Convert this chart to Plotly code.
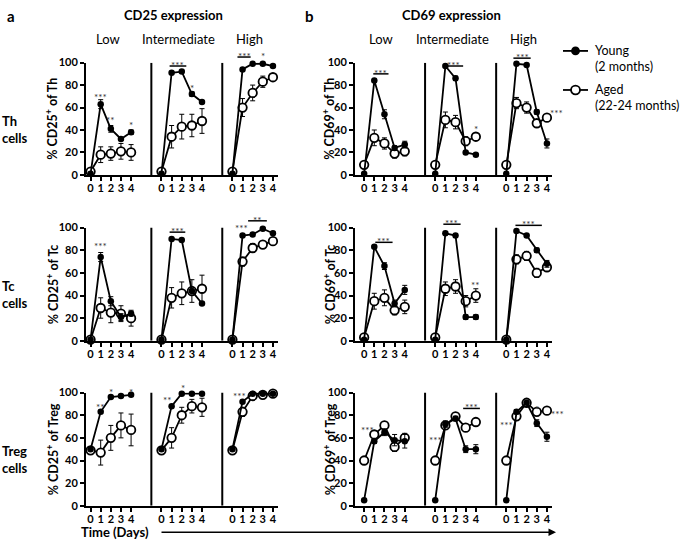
import plotly.graph_objects as go

# ---------------- data ----------------
days = [0, 1, 2, 3, 4]
subset_names = ["Low", "Intermediate", "High"]
tick_labels = ["0", "1", "2", "3", "4"]
y_ticks = [0, 20, 40, 60, 80, 100]
row_labels = ["Th", "Tc", "Treg"]
markers = ["CD25", "CD69"]
legend_young = ["Young", "(2 months)"]
legend_aged = ["Aged", "(22-24 months)"]

# each list: [Low, Intermediate, High], values for days 0..4
cd25_th_young = [[1, 63, 41, 32, 38], [1, 91, 92, 72, 65], [1, 94, 99, 99, 97]]
cd25_th_young_err = [[0, 4, 3, 1, 2], [0, 1, 1, 2, 1], [0, 1, 1, 1, 1]]
cd25_th_aged = [[3, 18, 19, 21, 20], [3, 34, 43, 44, 48], [3, 60, 73, 83, 87]]
cd25_th_aged_err = [[1, 7, 6, 7, 7], [1, 10, 11, 10, 11], [1, 8, 7, 5, 3]]

cd25_tc_young = [[1, 74, 35, 21, 24], [1, 90, 89, 44, 33], [1, 93, 94, 99, 95]]
cd25_tc_young_err = [[0, 4, 4, 3, 2], [0, 0, 0, 1, 1], [0, 1, 1, 1, 1]]
cd25_tc_aged = [[1, 29, 25, 24, 20], [1, 38, 42, 44, 46], [1, 70, 82, 85, 88]]
cd25_tc_aged_err = [[1, 9, 9, 7, 7], [1, 9, 10, 10, 12], [1, 4, 4, 3, 2]]

cd25_treg_young = [[50, 83, 96, 97, 98], [50, 88, 99, 99, 99], [50, 92, 99, 99, 99]]
cd25_treg_young_err = [[1, 1, 1, 1, 1], [1, 1, 1, 1, 1], [1, 1, 1, 1, 1]]
cd25_treg_aged = [[49, 47, 60, 71, 67], [49, 60, 80, 88, 87], [49, 83, 97, 98, 99]]
cd25_treg_aged_err = [[2, 11, 11, 11, 14], [1, 9, 7, 6, 8], [1, 4, 2, 1, 1]]

cd69_th_young = [[1, 84, 54, 24, 27], [1, 97, 86, 20, 18], [1, 99, 98, 56, 28]]
cd69_th_young_err = [[0, 1, 4, 2, 3], [0, 1, 2, 1, 1], [0, 0, 0, 2, 4]]
cd69_th_aged = [[9, 33, 28, 19, 21], [9, 49, 47, 30, 34], [9, 64, 60, 46, 51]]
cd69_th_aged_err = [[1, 7, 5, 4, 4], [1, 7, 6, 4, 3], [1, 5, 5, 3, 2]]

cd69_tc_young = [[1, 83, 66, 33, 45], [1, 95, 93, 21, 21], [1, 97, 93, 80, 68]]
cd69_tc_young_err = [[0, 1, 3, 3, 4], [0, 0, 0, 2, 2], [0, 0, 1, 2, 3]]
cd69_tc_aged = [[3, 35, 38, 27, 30], [3, 46, 48, 35, 40], [1, 72, 75, 60, 65]]
cd69_tc_aged_err = [[1, 7, 7, 4, 6], [1, 6, 6, 5, 6], [0, 4, 4, 4, 2]]

cd69_treg_young = [[5, 57, 65, 58, 57], [5, 72, 77, 50, 50], [5, 83, 91, 73, 61]]
cd69_treg_young_err = [[0, 2, 3, 5, 6], [0, 3, 2, 3, 4], [0, 2, 1, 3, 4]]
cd69_treg_aged = [[40, 63, 71, 52, 60], [40, 71, 79, 69, 74], [40, 79, 91, 83, 84]]
cd69_treg_aged_err = [[1, 2, 3, 4, 4], [1, 2, 2, 3, 2], [1, 2, 1, 2, 1]]

panel_data = {
    (0, 0): (cd25_th_young, cd25_th_young_err, cd25_th_aged, cd25_th_aged_err),
    (0, 1): (cd69_th_young, cd69_th_young_err, cd69_th_aged, cd69_th_aged_err),
    (1, 0): (cd25_tc_young, cd25_tc_young_err, cd25_tc_aged, cd25_tc_aged_err),
    (1, 1): (cd69_tc_young, cd69_tc_young_err, cd69_tc_aged, cd69_tc_aged_err),
    (2, 0): (cd25_treg_young, cd25_treg_young_err, cd25_treg_aged, cd25_treg_aged_err),
    (2, 1): (cd69_treg_young, cd69_treg_young_err, cd69_treg_aged, cd69_treg_aged_err),
}

# significance marks: (subset, day, y, text[, xshift])
stars = {
    (0, 0): [(0, 1, 72, "***"), (0, 2, 52, "**"), (0, 4, 47, "*"), (1, 3, 80, "*"), (2, 3, 109, "*")],
    (0, 1): [(1, 4, 44, "*"), (2, 4, 58, "***", 10)],
    (1, 0): [(0, 1, 86, "***"), (2, 0.85, 102, "***")],
    (1, 1): [(1, 4, 52, "**")],
    (2, 0): [(0, 1, 90, "**"), (0, 2, 103, "*"), (0, 4, 103, "*"), (1, 0.6, 96, "**"),
             (1, 2.1, 107, "*"), (2, 0.7, 100, "***")],
    (2, 1): [(0, 0.3, 70, "***"), (1, 0, 61, "***"), (2, 0, 74, "***"), (2, 3, 88, "*"),
             (2, 4, 84, "***", 11)],
}
# bracket bars: (subset, day_from, day_to, y, text)
bars = {
    (0, 0): [(1, 0.8, 2.45, 97, "***"), (2, 0.5, 1.8, 105, "***")],
    (0, 1): [(0, 0.9, 2.4, 90, "***"), (1, 0.9, 2.75, 97, "***"), (2, 0.7, 2.4, 104, "***")],
    (1, 0): [(1, 0.8, 2.35, 96, "***"), (2, 1.55, 3.4, 106, "**")],
    (1, 1): [(0, 1.1, 2.8, 87, "***"), (1, 0.8, 2.5, 103, "***"), (2, 0.9, 3.5, 102, "***")],
    (2, 0): [],
    (2, 1): [(1, 2.75, 4.4, 86, "***")],
}

# ---------------- layout geometry ----------------
W, H = 685, 545
FONT = "Lato"
offsets = [0, 7, 14]
group_px = [(86, 278), (355, 552)]
group_range = [[-0.45, 18.5], [-0.9, 18.5]]
row_px = [(57, 172), (226, 342), (395, 511)]


def px(x):
    return x / W


def py(y):
    return 1 - y / H


def ypaper(r, val):
    # position of a value of row r in paper units (for marks placed above the axis range)
    top, bot = row_px[r]
    return py(bot) + val / 100.0 * (bot - top) / H


fig = go.Figure()
layout = dict(
    width=W, height=H, margin=dict(l=0, r=0, t=0, b=0),
    plot_bgcolor="white", paper_bgcolor="white",
    font=dict(family=FONT, color="black"),
    showlegend=False,
)
shapes, annotations = [], []

tickvals = [o + d for o in offsets for d in days]
ticktext = tick_labels * 3
STAR_FONT = dict(size=10, color="#333")

for (r, g), (yv, ye, av, ae) in panel_data.items():
    k = r * 2 + g + 1
    xa, ya = f"x{k}", f"y{k}"
    layout[f"xaxis{k}"] = dict(
        domain=[px(group_px[g][0]), px(group_px[g][1])], range=group_range[g], anchor=ya,
        showline=True, linewidth=2, linecolor="black", ticks="outside", ticklen=4,
        tickwidth=1.5, tickcolor="black", tickvals=tickvals, ticktext=ticktext,
        tickfont=dict(size=11, weight="bold", family=FONT), showgrid=False, zeroline=False,
        ticklabelstandoff=-2,
    )
    layout[f"yaxis{k}"] = dict(
        domain=[py(row_px[r][1]), py(row_px[r][0])], range=[0, 100], anchor=xa,
        showline=True, linewidth=2, linecolor="black", ticks="outside", ticklen=4,
        tickwidth=1.5, tickcolor="black", tickvals=y_ticks,
        tickfont=dict(size=11, weight="bold", family=FONT), showgrid=False, zeroline=False,
    )
    for s in range(3):
        xs = [offsets[s] + d for d in days]
        fig.add_trace(go.Scatter(
            x=xs, y=av[s], xaxis=xa, yaxis=ya, mode="lines+markers",
            line=dict(color="black", width=1.8),
            marker=dict(symbol="circle", size=8.5, color="white", line=dict(color="black", width=1.8)),
            error_y=dict(type="data", array=ae[s], color="black", thickness=1, width=2.5),
            cliponaxis=False, hoverinfo="skip",
        ))
        fig.add_trace(go.Scatter(
            x=xs, y=yv[s], xaxis=xa, yaxis=ya, mode="lines+markers",
            line=dict(color="black", width=1.8),
            marker=dict(symbol="circle", size=6.5, color="black"),
            error_y=dict(type="data", array=ye[s], color="black", thickness=1, width=2.5),
            cliponaxis=False, hoverinfo="skip",
        ))
    # separators between subsets
    for sep in (6, 13):
        shapes.append(dict(type="line", xref=xa, yref=ya, x0=sep, x1=sep, y0=0, y1=100,
                           line=dict(color="black", width=2)))
    for st in stars[(r, g)]:
        s, d, y, t = st[:4]
        xs_ = st[4] if len(st) > 4 else 0
        annotations.append(dict(xref=xa, yref="paper", x=offsets[s] + d, y=ypaper(r, y), text=t,
                                showarrow=False, xshift=xs_, yshift=-3, font=STAR_FONT,
                                xanchor="center", yanchor="middle"))
    for s, d0, d1, y, t in bars[(r, g)]:
        shapes.append(dict(type="line", xref=xa, yref="paper", x0=offsets[s] + d0, x1=offsets[s] + d1,
                           y0=ypaper(r, y), y1=ypaper(r, y), line=dict(color="black", width=1.5)))
        annotations.append(dict(xref=xa, yref="paper", x=offsets[s] + (d0 + d1) / 2,
                                y=ypaper(r, y + 3.5), text=t, showarrow=False, yshift=-3,
                                font=STAR_FONT, xanchor="center", yanchor="middle"))
    # y-axis title
    ytitle_x = [52, 329][g]
    annotations.append(dict(xref="paper", yref="paper", x=px(ytitle_x),
                            y=py((row_px[r][0] + row_px[r][1]) / 2),
                            text=f"% {markers[g]}<sup>+</sup> of {row_labels[r]}", textangle=-90,
                            showarrow=False, font=dict(size=12.5, weight="bold"),
                            xanchor="center", yanchor="middle"))
    # subset headers on top row
    if r == 0:
        for s in range(3):
            annotations.append(dict(xref=xa, yref="paper", x=offsets[s] + 1.7, y=py(33),
                                    text=subset_names[s], showarrow=False,
                                    font=dict(size=13), xanchor="center", yanchor="middle"))

# row labels
for r, lab in enumerate(row_labels):
    annotations.append(dict(xref="paper", yref="paper", x=px(0), y=py((row_px[r][0] + row_px[r][1]) / 2 + 11),
                            text=f"{lab}<br>cells", showarrow=False, align="left",
                            font=dict(size=13, weight="bold"), xanchor="left", yanchor="middle"))

# panel letters and titles
annotations += [
    dict(xref="paper", yref="paper", x=px(5), y=py(9), text="a", showarrow=False,
         font=dict(size=15, weight="bold"), xanchor="left", yanchor="middle"),
    dict(xref="paper", yref="paper", x=px(303), y=py(9), text="b", showarrow=False,
         font=dict(size=15, weight="bold"), xanchor="left", yanchor="middle"),
    dict(xref="paper", yref="paper", x=px(173), y=py(8), text="CD25 expression", showarrow=False,
         font=dict(size=13, weight="bold"), xanchor="center", yanchor="middle"),
    dict(xref="paper", yref="paper", x=px(452), y=py(8), text="CD69 expression", showarrow=False,
         font=dict(size=13, weight="bold"), xanchor="center", yanchor="middle"),
    dict(xref="paper", yref="paper", x=px(115), y=py(538), text="Time (Days)", showarrow=False,
         font=dict(size=13, weight="bold"), xanchor="center", yanchor="middle"),
    dict(xref="paper", yref="paper", x=px(556), y=py(538), axref="pixel", ayref="pixel",
         ax=-396, ay=0, text="", showarrow=True, arrowhead=2, arrowsize=1, arrowwidth=1.5,
         arrowcolor="black"),
]

# manual legend (line + marker + two text lines per entry)
for (lines, yc, filled) in ((legend_young, 45, True), (legend_aged, 85, False)):
    shapes.append(dict(type="line", xref="paper", yref="paper", x0=px(563), x1=px(588),
                       y0=py(yc), y1=py(yc), line=dict(color="black", width=1.8)))
    rad = 3.5 if filled else 4.5
    shapes.append(dict(type="circle", xref="paper", yref="paper",
                       x0=px(575.5 - rad), x1=px(575.5 + rad), y0=py(yc + rad), y1=py(yc - rad),
                       fillcolor="black" if filled else "white",
                       line=dict(color="black", width=1.8)))
    for i, txt in enumerate(lines):
        annotations.append(dict(xref="paper", yref="paper", x=px(593), y=py(yc + 16 * i), text=txt,
                                showarrow=False, font=dict(size=12.5), xanchor="left",
                                yanchor="middle"))

layout["shapes"] = shapes
layout["annotations"] = annotations
fig.update_layout(**layout)
fig.write_html("out.html", config={"displayModeBar": False},
               post_script="document.body.style.margin='0px';")
